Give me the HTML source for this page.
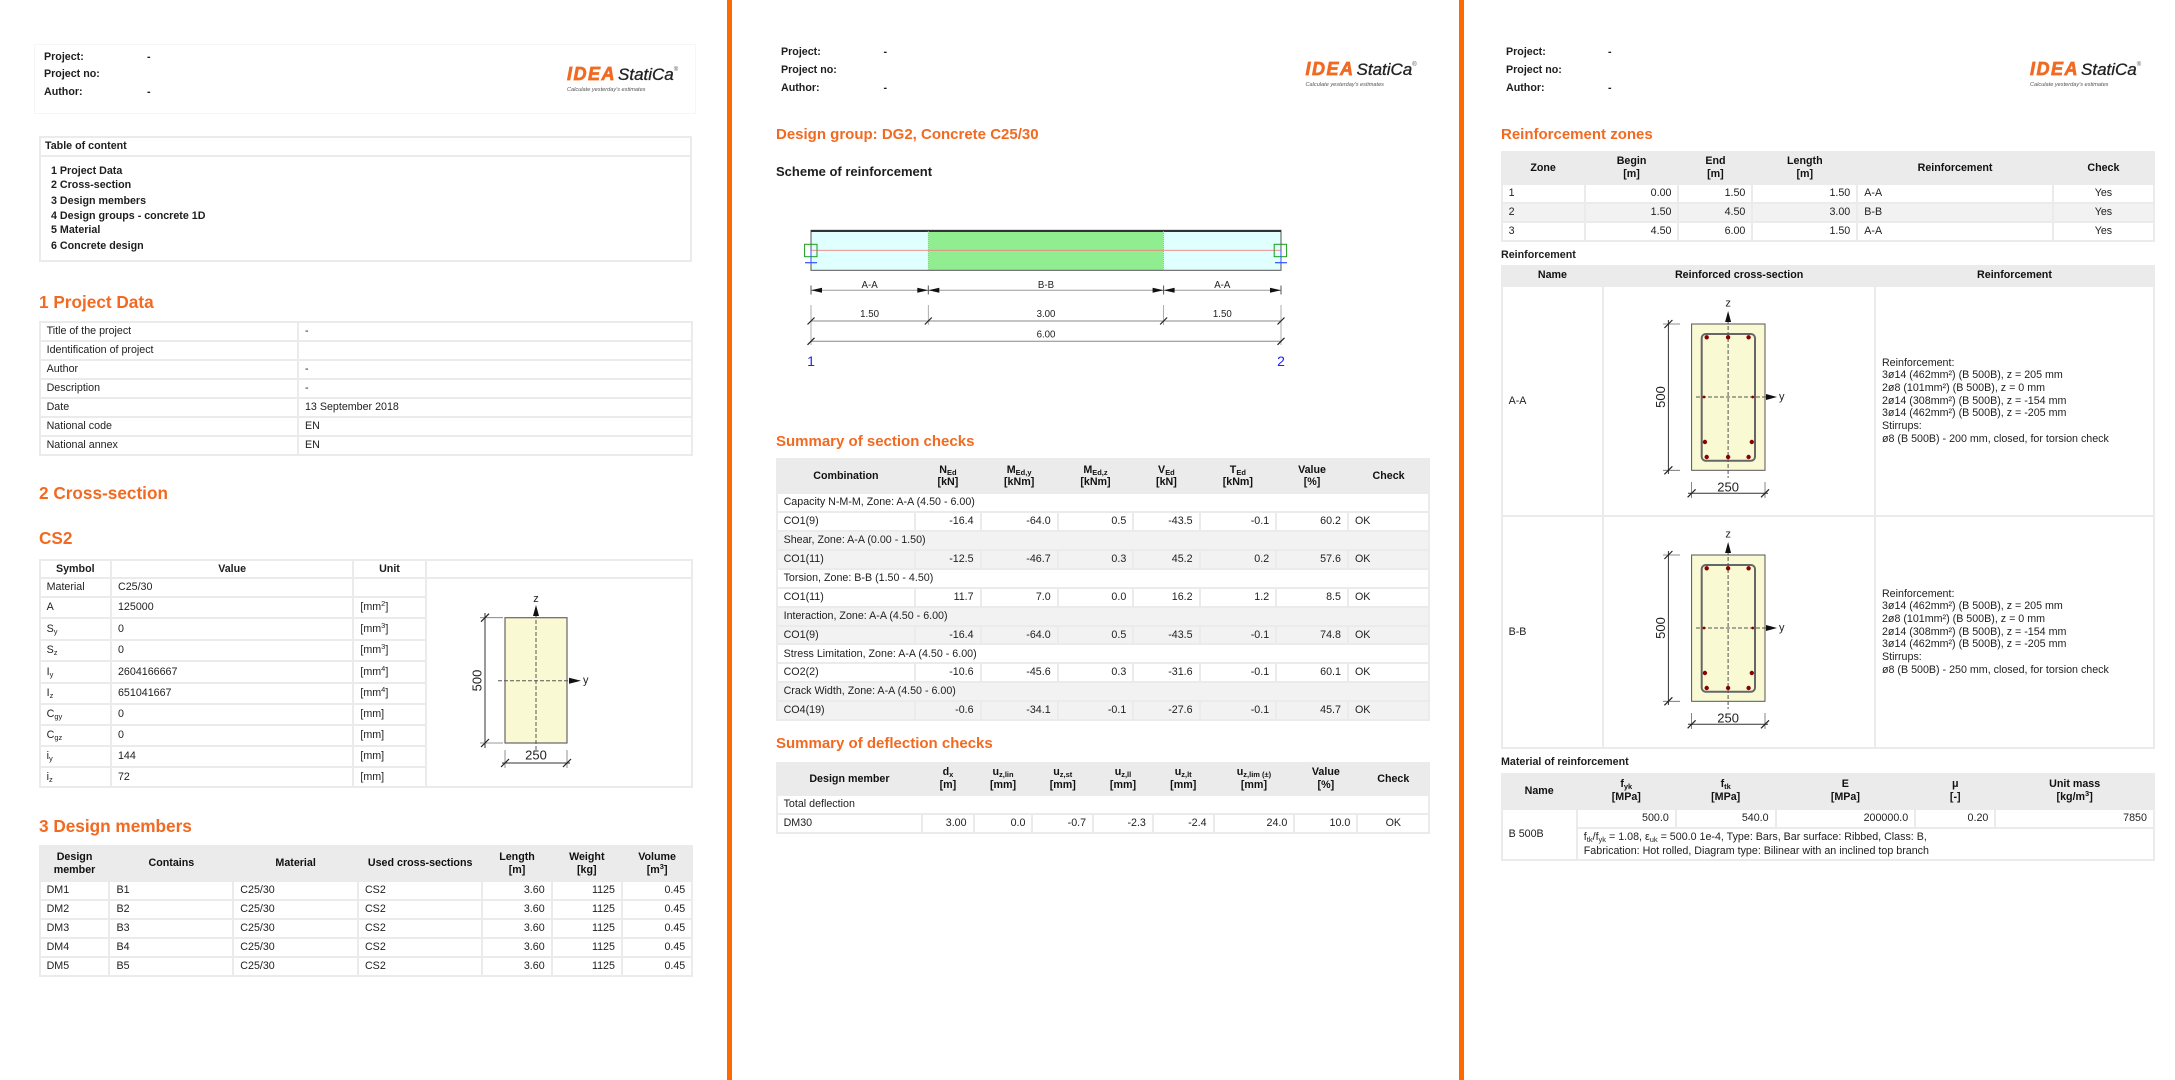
<!DOCTYPE html>
<html><head><meta charset="utf-8">
<style>
*{box-sizing:border-box}
body{margin:0;width:2175px;height:1080px;position:relative;overflow:hidden;background:#fff;font-family:"Liberation Sans",Arial,sans-serif;color:#1e1e1e;font-size:10.7px}
.a{position:absolute;white-space:nowrap}
.b{font-weight:bold}
.t{line-height:14px}
.hd{position:absolute;white-space:nowrap;font-weight:bold;color:#f26a21;line-height:20px}
.h17{font-size:17.2px}
.h15{font-size:15px}
table{position:absolute;border-collapse:collapse;table-layout:fixed;font-size:10.7px;line-height:12.7px}
td,th{border:2px solid #ebebeb;padding:0 6px;white-space:nowrap;overflow:hidden;vertical-align:middle}
th{background:#ebebeb;font-weight:bold;text-align:center;color:#111}
.r{text-align:right}.c{text-align:center}
.g td{background:#f2f2f2}
sub,sup{font-size:70%;line-height:0}
sub{vertical-align:-2px}sup{vertical-align:4px}
.sep{position:absolute;top:0;height:1080px;width:4.5px;background:#ff6a00}
.logo{position:absolute;white-space:nowrap;line-height:18px}
.idea{font-style:italic;font-weight:bold;font-size:18px;color:#f26a21;letter-spacing:1.5px;-webkit-text-stroke:0.7px #f26a21}
.st{font-style:italic;font-size:17px;color:#222;margin-left:2px;-webkit-text-stroke:0.3px #222}
.reg{font-size:6px;vertical-align:9px;color:#555}
.tag{font-style:italic;font-size:5.6px;color:#555;line-height:7px;margin-top:1px}
</style></head><body>

<div class="sep" style="left:727px"></div>
<div class="sep" style="left:1459.3px"></div>

<!-- ========== COLUMN 1 ========== -->
<div class="a" style="left:34px;top:44px;width:662px;height:70px;border:1px solid #f6f6f6"></div>
<div class="a b t" style="left:44px;top:49.7px">Project:</div><div class="a b t" style="left:147px;top:49.7px">-</div>
<div class="a b t" style="left:44px;top:67.3px">Project no:</div>
<div class="a b t" style="left:44px;top:85.3px">Author:</div><div class="a b t" style="left:147px;top:85.3px">-</div>
<div class="logo" style="left:567px;top:60.7px"><span class="idea">IDEA</span><span class="st">StatiCa</span><span class="reg">®</span><div class="tag">Calculate yesterday's estimates</div></div>

<div class="a" style="left:38.6px;top:136px;width:653px;height:126px;border:2px solid #ebebeb"></div>
<div class="a" style="left:38.6px;top:154.5px;width:653px;height:2px;background:#ebebeb"></div>
<div class="a b t" style="left:45px;top:138.7px">Table of content</div>
<div class="a b t" style="left:51px;top:164px">1 Project Data</div>
<div class="a b t" style="left:51px;top:178.3px">2 Cross-section</div>
<div class="a b t" style="left:51px;top:193.7px">3 Design members</div>
<div class="a b t" style="left:51px;top:209px">4 Design groups - concrete 1D</div>
<div class="a b t" style="left:51px;top:223.3px">5 Material</div>
<div class="a b t" style="left:51px;top:238.7px">6 Concrete design</div>

<div class="hd h17" style="left:39px;top:292px">1 Project Data</div>
<table style="left:38.6px;top:321px;width:652.4px">
<colgroup><col style="width:258.4px"><col style="width:394px"></colgroup>
<tr style="height:19px"><td>Title of the project</td><td>-</td></tr>
<tr style="height:19px"><td>Identification of project</td><td></td></tr>
<tr style="height:19px"><td>Author</td><td>-</td></tr>
<tr style="height:19px"><td>Description</td><td>-</td></tr>
<tr style="height:19px"><td>Date</td><td>13 September 2018</td></tr>
<tr style="height:19px"><td>National code</td><td>EN</td></tr>
<tr style="height:19px"><td>National annex</td><td>EN</td></tr>
</table>

<div class="hd h17" style="left:39px;top:482.7px">2 Cross-section</div>
<div class="hd h17" style="left:39px;top:528.3px">CS2</div>
<table style="left:38.6px;top:558.7px;width:652.4px">
<colgroup><col style="width:71.4px"><col style="width:242.4px"><col style="width:72.2px"><col style="width:266.4px"></colgroup>
<tr style="height:18.6px"><td class="c b">Symbol</td><td class="c b">Value</td><td class="c b">Unit</td><td></td></tr>
<tr style="height:19px"><td>Material</td><td>C25/30</td><td></td><td rowspan="10"></td></tr>
<tr style="height:21px"><td>A</td><td>125000</td><td>[mm<sup>2</sup>]</td></tr>
<tr style="height:21.5px"><td>S<sub>y</sub></td><td>0</td><td>[mm<sup>3</sup>]</td></tr>
<tr style="height:21.5px"><td>S<sub>z</sub></td><td>0</td><td>[mm<sup>3</sup>]</td></tr>
<tr style="height:21.3px"><td>I<sub>y</sub></td><td>2604166667</td><td>[mm<sup>4</sup>]</td></tr>
<tr style="height:21.5px"><td>I<sub>z</sub></td><td>651041667</td><td>[mm<sup>4</sup>]</td></tr>
<tr style="height:20.7px"><td>C<sub>gy</sub></td><td>0</td><td>[mm]</td></tr>
<tr style="height:21px"><td>C<sub>gz</sub></td><td>0</td><td>[mm]</td></tr>
<tr style="height:21px"><td>i<sub>y</sub></td><td>144</td><td>[mm]</td></tr>
<tr style="height:20.6px"><td>i<sub>z</sub></td><td>72</td><td>[mm]</td></tr>
</table>

<div class="hd h17" style="left:39px;top:816px">3 Design members</div>
<table style="left:38.6px;top:845.3px;width:652.7px">
<colgroup><col style="width:69.9px"><col style="width:123.8px"><col style="width:124.7px"><col style="width:124.4px"><col style="width:69.3px"><col style="width:70.3px"><col style="width:70.3px"></colgroup>
<tr style="height:34.7px"><th>Design<br>member</th><th>Contains</th><th>Material</th><th>Used cross-sections</th><th>Length<br>[m]</th><th>Weight<br>[kg]</th><th>Volume<br>[m<sup>3</sup>]</th></tr>
<tr style="height:19px"><td>DM1</td><td>B1</td><td>C25/30</td><td>CS2</td><td class="r">3.60</td><td class="r">1125</td><td class="r">0.45</td></tr>
<tr style="height:19px"><td>DM2</td><td>B2</td><td>C25/30</td><td>CS2</td><td class="r">3.60</td><td class="r">1125</td><td class="r">0.45</td></tr>
<tr style="height:19px"><td>DM3</td><td>B3</td><td>C25/30</td><td>CS2</td><td class="r">3.60</td><td class="r">1125</td><td class="r">0.45</td></tr>
<tr style="height:19px"><td>DM4</td><td>B4</td><td>C25/30</td><td>CS2</td><td class="r">3.60</td><td class="r">1125</td><td class="r">0.45</td></tr>
<tr style="height:19px"><td>DM5</td><td>B5</td><td>C25/30</td><td>CS2</td><td class="r">3.60</td><td class="r">1125</td><td class="r">0.45</td></tr>
</table>

<!-- ========== COLUMN 2 ========== -->
<div class="a b t" style="left:781px;top:45.3px">Project:</div><div class="a b t" style="left:883.5px;top:45.3px">-</div>
<div class="a b t" style="left:781px;top:63.3px">Project no:</div>
<div class="a b t" style="left:781px;top:81.3px">Author:</div><div class="a b t" style="left:883.5px;top:81.3px">-</div>
<div class="logo" style="left:1305.5px;top:55.7px"><span class="idea">IDEA</span><span class="st">StatiCa</span><span class="reg">®</span><div class="tag">Calculate yesterday's estimates</div></div>

<div class="hd h15" style="left:776px;top:124.7px">Design group: DG2, Concrete C25/30</div>
<div class="a b" style="left:776px;top:164.3px;font-size:13px;line-height:16px">Scheme of reinforcement</div>

<div class="hd h15" style="left:776px;top:431.7px">Summary of section checks</div>
<table style="left:775.6px;top:458.3px;width:652.7px">
<colgroup><col style="width:138.7px"><col style="width:65.3px"><col style="width:77.1px"><col style="width:75.6px"><col style="width:66.3px"><col style="width:76.6px"><col style="width:71.8px"><col style="width:81.3px"></colgroup>
<tr style="height:34px"><th>Combination</th><th>N<sub>Ed</sub><br>[kN]</th><th>M<sub>Ed,y</sub><br>[kNm]</th><th>M<sub>Ed,z</sub><br>[kNm]</th><th>V<sub>Ed</sub><br>[kN]</th><th>T<sub>Ed</sub><br>[kNm]</th><th>Value<br>[%]</th><th>Check</th></tr>
<tr style="height:18.9px"><td colspan="8">Capacity N-M-M, Zone: A-A (4.50 - 6.00)</td></tr>
<tr style="height:18.9px"><td>CO1(9)</td><td class="r">-16.4</td><td class="r">-64.0</td><td class="r">0.5</td><td class="r">-43.5</td><td class="r">-0.1</td><td class="r">60.2</td><td>OK</td></tr>
<tr class="g" style="height:18.9px"><td colspan="8">Shear, Zone: A-A (0.00 - 1.50)</td></tr>
<tr class="g" style="height:18.9px"><td>CO1(11)</td><td class="r">-12.5</td><td class="r">-46.7</td><td class="r">0.3</td><td class="r">45.2</td><td class="r">0.2</td><td class="r">57.6</td><td>OK</td></tr>
<tr style="height:18.9px"><td colspan="8">Torsion, Zone: B-B (1.50 - 4.50)</td></tr>
<tr style="height:18.9px"><td>CO1(11)</td><td class="r">11.7</td><td class="r">7.0</td><td class="r">0.0</td><td class="r">16.2</td><td class="r">1.2</td><td class="r">8.5</td><td>OK</td></tr>
<tr class="g" style="height:18.9px"><td colspan="8">Interaction, Zone: A-A (4.50 - 6.00)</td></tr>
<tr class="g" style="height:18.9px"><td>CO1(9)</td><td class="r">-16.4</td><td class="r">-64.0</td><td class="r">0.5</td><td class="r">-43.5</td><td class="r">-0.1</td><td class="r">74.8</td><td>OK</td></tr>
<tr style="height:18.9px"><td colspan="8">Stress Limitation, Zone: A-A (4.50 - 6.00)</td></tr>
<tr style="height:18.9px"><td>CO2(2)</td><td class="r">-10.6</td><td class="r">-45.6</td><td class="r">0.3</td><td class="r">-31.6</td><td class="r">-0.1</td><td class="r">60.1</td><td>OK</td></tr>
<tr class="g" style="height:18.9px"><td colspan="8">Crack Width, Zone: A-A (4.50 - 6.00)</td></tr>
<tr class="g" style="height:18.9px"><td>CO4(19)</td><td class="r">-0.6</td><td class="r">-34.1</td><td class="r">-0.1</td><td class="r">-27.6</td><td class="r">-0.1</td><td class="r">45.7</td><td>OK</td></tr>
</table>

<div class="hd h15" style="left:776px;top:734px">Summary of deflection checks</div>
<table style="left:775.6px;top:761.7px;width:652.7px">
<colgroup><col style="width:145.7px"><col style="width:51.3px"><col style="width:58.9px"><col style="width:60.6px"><col style="width:59.8px"><col style="width:60.7px"><col style="width:80.8px"><col style="width:63px"><col style="width:71.9px"></colgroup>
<tr style="height:32.6px"><th>Design member</th><th>d<sub>x</sub><br>[m]</th><th>u<sub>z,lin</sub><br>[mm]</th><th>u<sub>z,st</sub><br>[mm]</th><th>u<sub>z,ll</sub><br>[mm]</th><th>u<sub>z,lt</sub><br>[mm]</th><th>u<sub>z,lim (±)</sub><br>[mm]</th><th>Value<br>[%]</th><th>Check</th></tr>
<tr style="height:19px"><td colspan="9">Total deflection</td></tr>
<tr style="height:19px"><td>DM30</td><td class="r">3.00</td><td class="r">0.0</td><td class="r">-0.7</td><td class="r">-2.3</td><td class="r">-2.4</td><td class="r">24.0</td><td class="r">10.0</td><td class="c">OK</td></tr>
</table>

<!-- ========== COLUMN 3 ========== -->
<div class="a b t" style="left:1506px;top:45.3px">Project:</div><div class="a b t" style="left:1608px;top:45.3px">-</div>
<div class="a b t" style="left:1506px;top:63.3px">Project no:</div>
<div class="a b t" style="left:1506px;top:81.3px">Author:</div><div class="a b t" style="left:1608px;top:81.3px">-</div>
<div class="logo" style="left:2030px;top:55.7px"><span class="idea">IDEA</span><span class="st">StatiCa</span><span class="reg">®</span><div class="tag">Calculate yesterday's estimates</div></div>

<div class="hd h15" style="left:1501px;top:124.7px">Reinforcement zones</div>
<table style="left:1500.6px;top:151px;width:652.4px">
<colgroup><col style="width:83px"><col style="width:93.9px"><col style="width:73.9px"><col style="width:104.9px"><col style="width:195.6px"><col style="width:101.1px"></colgroup>
<tr style="height:32.3px"><th>Zone</th><th>Begin<br>[m]</th><th>End<br>[m]</th><th>Length<br>[m]</th><th>Reinforcement</th><th>Check</th></tr>
<tr style="height:19px"><td>1</td><td class="r">0.00</td><td class="r">1.50</td><td class="r">1.50</td><td>A-A</td><td class="c">Yes</td></tr>
<tr class="g" style="height:19px"><td>2</td><td class="r">1.50</td><td class="r">4.50</td><td class="r">3.00</td><td>B-B</td><td class="c">Yes</td></tr>
<tr style="height:19px"><td>3</td><td class="r">4.50</td><td class="r">6.00</td><td class="r">1.50</td><td>A-A</td><td class="c">Yes</td></tr>
</table>

<div class="a b t" style="left:1501px;top:248px">Reinforcement</div>
<table style="left:1500.6px;top:265px;width:652.4px">
<colgroup><col style="width:101.7px"><col style="width:271.7px"><col style="width:279px"></colgroup>
<tr style="height:19.7px"><th>Name</th><th>Reinforced cross-section</th><th>Reinforcement</th></tr>
<tr style="height:230.6px"><td>A-A</td><td></td><td style="line-height:12.67px">Reinforcement:<br>3ø14 (462mm²) (B 500B), z = 205 mm<br>2ø8 (101mm²) (B 500B), z = 0 mm<br>2ø14 (308mm²) (B 500B), z = -154 mm<br>3ø14 (462mm²) (B 500B), z = -205 mm<br>Stirrups:<br>ø8 (B 500B) - 200 mm, closed, for torsion check</td></tr>
<tr style="height:231.4px"><td>B-B</td><td></td><td style="line-height:12.67px">Reinforcement:<br>3ø14 (462mm²) (B 500B), z = 205 mm<br>2ø8 (101mm²) (B 500B), z = 0 mm<br>2ø14 (308mm²) (B 500B), z = -154 mm<br>3ø14 (462mm²) (B 500B), z = -205 mm<br>Stirrups:<br>ø8 (B 500B) - 250 mm, closed, for torsion check</td></tr>
</table>

<div class="a b t" style="left:1501px;top:755px">Material of reinforcement</div>
<table style="left:1500.6px;top:772.7px;width:652.4px">
<colgroup><col style="width:75.2px"><col style="width:99px"><col style="width:99.8px"><col style="width:139.6px"><col style="width:80.2px"><col style="width:158.6px"></colgroup>
<tr style="height:35px"><th>Name</th><th>f<sub>yk</sub><br>[MPa]</th><th>f<sub>tk</sub><br>[MPa]</th><th>E<br>[MPa]</th><th>μ<br>[-]</th><th>Unit mass<br>[kg/m<sup>3</sup>]</th></tr>
<tr style="height:19px"><td rowspan="2">B 500B</td><td class="r">500.0</td><td class="r">540.0</td><td class="r">200000.0</td><td class="r">0.20</td><td class="r">7850</td></tr>
<tr style="height:32.6px"><td colspan="5" style="line-height:14px">f<sub>tk</sub>/f<sub>yk</sub> = 1.08, ε<sub>uk</sub> = 500.0 1e-4, Type: Bars, Bar surface: Ribbed, Class: B,<br>Fabrication: Hot rolled, Diagram type: Bilinear with an inclined top branch</td></tr>
</table>

<!-- ========== DRAWINGS ========== -->
<svg class="a" style="left:0;top:0" width="2175" height="1080" xmlns="http://www.w3.org/2000/svg" font-family="Liberation Sans, Arial, sans-serif">
<!-- CS2 section -->
<rect x="505" y="617.7" width="62" height="125.3" fill="#f9f9d4" stroke="#666" stroke-width="1.2"/>
<line x1="536" y1="614" x2="536" y2="750" stroke="#555" stroke-width="1" stroke-dasharray="4 2"/>
<polygon points="536,605 533,616 539,616" fill="#111"/>
<text x="536" y="602" font-size="11" text-anchor="middle" fill="#222">z</text>
<line x1="498" y1="680.7" x2="569" y2="680.7" stroke="#555" stroke-width="1" stroke-dasharray="4 2"/>
<polygon points="581,680.7 569,677.7 569,683.7" fill="#111"/>
<text x="583" y="683.5" font-size="11" fill="#222">y</text>
<line x1="485" y1="613" x2="485" y2="748" stroke="#333" stroke-width="1"/>
<line x1="480" y1="617.7" x2="503" y2="617.7" stroke="#777" stroke-width="0.8"/>
<line x1="480" y1="743" x2="503" y2="743" stroke="#777" stroke-width="0.8"/>
<line x1="481" y1="621.7" x2="489" y2="613.7" stroke="#222" stroke-width="1.2"/>
<line x1="481" y1="747" x2="489" y2="739" stroke="#222" stroke-width="1.2"/>
<text x="0" y="0" font-size="13" text-anchor="middle" fill="#222" transform="translate(481.5 680.5) rotate(-90)">500</text>
<text x="536" y="759.6" font-size="13" text-anchor="middle" fill="#222">250</text>
<line x1="502" y1="763" x2="570" y2="763" stroke="#333" stroke-width="1"/>
<line x1="505" y1="750" x2="505" y2="768" stroke="#777" stroke-width="0.8"/>
<line x1="567" y1="750" x2="567" y2="768" stroke="#777" stroke-width="0.8"/>
<line x1="501" y1="767" x2="509" y2="759" stroke="#222" stroke-width="1.2"/>
<line x1="563" y1="767" x2="571" y2="759" stroke="#222" stroke-width="1.2"/>

<!-- Beam scheme -->
<rect x="811" y="230.3" width="117.3" height="40" fill="#e0ffff"/>
<rect x="928.3" y="230.3" width="235.3" height="40" fill="#90ee90"/>
<rect x="1163.6" y="230.3" width="117.4" height="40" fill="#e0ffff"/>
<rect x="811" y="230.3" width="470" height="40" fill="none" stroke="#555" stroke-width="1"/>
<line x1="811" y1="231" x2="1281" y2="231" stroke="#333" stroke-width="2"/>
<line x1="928.3" y1="231" x2="928.3" y2="270" stroke="#aaa" stroke-width="0.8" stroke-dasharray="1 1"/>
<line x1="1163.6" y1="231" x2="1163.6" y2="270" stroke="#aaa" stroke-width="0.8" stroke-dasharray="1 1"/>
<line x1="811" y1="250.3" x2="1281" y2="250.3" stroke="#f08080" stroke-width="0.8"/>
<rect x="804.6" y="244.3" width="12.4" height="12.4" fill="none" stroke="#1a9a1a" stroke-width="1"/>
<rect x="1274.2" y="244.3" width="12.4" height="12.4" fill="none" stroke="#1a9a1a" stroke-width="1"/>
<line x1="811" y1="250" x2="811" y2="262.7" stroke="#3050ff" stroke-width="1"/>
<line x1="805" y1="262.7" x2="817" y2="262.7" stroke="#3050ff" stroke-width="1.2"/>
<line x1="1281" y1="250" x2="1281" y2="262.7" stroke="#3050ff" stroke-width="1"/>
<line x1="1275" y1="262.7" x2="1287" y2="262.7" stroke="#3050ff" stroke-width="1.2"/>
<!-- dim row 1 -->
<line x1="811" y1="290.3" x2="1281" y2="290.3" stroke="#999" stroke-width="1"/>
<g stroke="#555" stroke-width="1">
<line x1="811" y1="285.5" x2="811" y2="294.5"/><line x1="928.3" y1="285.5" x2="928.3" y2="294.5"/>
<line x1="1163.6" y1="285.5" x2="1163.6" y2="294.5"/><line x1="1281" y1="285.5" x2="1281" y2="294.5"/>
</g>
<g fill="#111">
<polygon points="811,290.3 822,287.8 822,292.8"/><polygon points="928.3,290.3 917.3,287.8 917.3,292.8"/>
<polygon points="928.3,290.3 939.3,287.8 939.3,292.8"/><polygon points="1163.6,290.3 1152.6,287.8 1152.6,292.8"/>
<polygon points="1163.6,290.3 1174.6,287.8 1174.6,292.8"/><polygon points="1281,290.3 1270,287.8 1270,292.8"/>
</g>
<g font-size="9.7" text-anchor="middle" fill="#222">
<text x="869.6" y="288">A-A</text><text x="1046" y="288">B-B</text><text x="1222.3" y="288">A-A</text>
<text x="869.6" y="317">1.50</text><text x="1046" y="317">3.00</text><text x="1222.3" y="317">1.50</text>
<text x="1046" y="337.3">6.00</text>
</g>
<!-- dim row 2/3 -->
<g stroke="#999" stroke-width="0.8">
<line x1="811" y1="305" x2="811" y2="345"/><line x1="928.3" y1="305" x2="928.3" y2="325"/>
<line x1="1163.6" y1="305" x2="1163.6" y2="325"/><line x1="1281" y1="305" x2="1281" y2="345"/>
</g>
<line x1="811" y1="321" x2="1281" y2="321" stroke="#888" stroke-width="1"/>
<line x1="811" y1="341.3" x2="1281" y2="341.3" stroke="#888" stroke-width="1"/>
<g stroke="#222" stroke-width="1.2">
<line x1="807.5" y1="324.5" x2="814.5" y2="317.5"/><line x1="924.8" y1="324.5" x2="931.8" y2="317.5"/>
<line x1="1160.1" y1="324.5" x2="1167.1" y2="317.5"/><line x1="1277.5" y1="324.5" x2="1284.5" y2="317.5"/>
<line x1="807.5" y1="344.8" x2="814.5" y2="337.8"/><line x1="1277.5" y1="344.8" x2="1284.5" y2="337.8"/>
</g>
<text x="811" y="366" font-size="14" text-anchor="middle" fill="#2020ff">1</text>
<text x="1281" y="366" font-size="14" text-anchor="middle" fill="#2020ff">2</text>

<!-- Reinforced section A-A -->
<g>
<rect x="1691.6" y="324" width="73.4" height="146.3" fill="#f9f9d4" stroke="#555" stroke-width="1"/>
<rect x="1701.7" y="334" width="53.3" height="126.7" rx="4" fill="none" stroke="#666" stroke-width="2"/>
<line x1="1728.1" y1="320" x2="1728.1" y2="478" stroke="#555" stroke-width="1" stroke-dasharray="4 2"/>
<polygon points="1728.1,311 1725.1,322 1731.1,322" fill="#111"/>
<text x="1728.1" y="306.5" font-size="11" text-anchor="middle" fill="#222">z</text>
<line x1="1696" y1="397" x2="1766" y2="397" stroke="#555" stroke-width="1" stroke-dasharray="4 2"/>
<polygon points="1777,397 1766,394 1766,400" fill="#111"/>
<text x="1779" y="400" font-size="11" fill="#222">y</text>
<g fill="#8b0000">
<circle cx="1706.7" cy="337.3" r="2.2"/><circle cx="1728.1" cy="337.3" r="2.2"/><circle cx="1748.6" cy="337.3" r="2.2"/>
<circle cx="1706.7" cy="457" r="2.2"/><circle cx="1728.1" cy="457" r="2.2"/><circle cx="1748.6" cy="457" r="2.2"/>
<circle cx="1704.9" cy="442" r="2.2"/><circle cx="1751.8" cy="442" r="2.2"/>
<circle cx="1704" cy="397" r="1.4"/><circle cx="1752.7" cy="397" r="1.4"/>
</g>
<line x1="1668.4" y1="320" x2="1668.4" y2="474" stroke="#333" stroke-width="1"/>
<line x1="1663" y1="324" x2="1680" y2="324" stroke="#666" stroke-width="0.8"/>
<line x1="1663" y1="470.3" x2="1680" y2="470.3" stroke="#666" stroke-width="0.8"/>
<line x1="1664.4" y1="328" x2="1672.4" y2="320" stroke="#222" stroke-width="1.2"/>
<line x1="1664.4" y1="474.3" x2="1672.4" y2="466.3" stroke="#222" stroke-width="1.2"/>
<text x="0" y="0" font-size="13" text-anchor="middle" fill="#222" transform="translate(1665 397) rotate(-90)">500</text>
<text x="1728.1" y="491.5" font-size="13" text-anchor="middle" fill="#222">250</text>
<line x1="1688" y1="493.3" x2="1768" y2="493.3" stroke="#333" stroke-width="1"/>
<line x1="1691.6" y1="482" x2="1691.6" y2="498" stroke="#666" stroke-width="0.8"/>
<line x1="1765" y1="482" x2="1765" y2="498" stroke="#666" stroke-width="0.8"/>
<line x1="1687.6" y1="497.3" x2="1695.6" y2="489.3" stroke="#222" stroke-width="1.2"/>
<line x1="1761" y1="497.3" x2="1769" y2="489.3" stroke="#222" stroke-width="1.2"/>
</g>
<!-- Reinforced section B-B -->
<g transform="translate(0 231)">
<rect x="1691.6" y="324" width="73.4" height="146.3" fill="#f9f9d4" stroke="#555" stroke-width="1"/>
<rect x="1701.7" y="334" width="53.3" height="126.7" rx="4" fill="none" stroke="#666" stroke-width="2"/>
<line x1="1728.1" y1="320" x2="1728.1" y2="478" stroke="#555" stroke-width="1" stroke-dasharray="4 2"/>
<polygon points="1728.1,311 1725.1,322 1731.1,322" fill="#111"/>
<text x="1728.1" y="306.5" font-size="11" text-anchor="middle" fill="#222">z</text>
<line x1="1696" y1="397" x2="1766" y2="397" stroke="#555" stroke-width="1" stroke-dasharray="4 2"/>
<polygon points="1777,397 1766,394 1766,400" fill="#111"/>
<text x="1779" y="400" font-size="11" fill="#222">y</text>
<g fill="#8b0000">
<circle cx="1706.7" cy="337.3" r="2.2"/><circle cx="1728.1" cy="337.3" r="2.2"/><circle cx="1748.6" cy="337.3" r="2.2"/>
<circle cx="1706.7" cy="457" r="2.2"/><circle cx="1728.1" cy="457" r="2.2"/><circle cx="1748.6" cy="457" r="2.2"/>
<circle cx="1704.9" cy="442" r="2.2"/><circle cx="1751.8" cy="442" r="2.2"/>
<circle cx="1704" cy="397" r="1.4"/><circle cx="1752.7" cy="397" r="1.4"/>
</g>
<line x1="1668.4" y1="320" x2="1668.4" y2="474" stroke="#333" stroke-width="1"/>
<line x1="1663" y1="324" x2="1680" y2="324" stroke="#666" stroke-width="0.8"/>
<line x1="1663" y1="470.3" x2="1680" y2="470.3" stroke="#666" stroke-width="0.8"/>
<line x1="1664.4" y1="328" x2="1672.4" y2="320" stroke="#222" stroke-width="1.2"/>
<line x1="1664.4" y1="474.3" x2="1672.4" y2="466.3" stroke="#222" stroke-width="1.2"/>
<text x="0" y="0" font-size="13" text-anchor="middle" fill="#222" transform="translate(1665 397) rotate(-90)">500</text>
<text x="1728.1" y="491.5" font-size="13" text-anchor="middle" fill="#222">250</text>
<line x1="1688" y1="493.3" x2="1768" y2="493.3" stroke="#333" stroke-width="1"/>
<line x1="1691.6" y1="482" x2="1691.6" y2="498" stroke="#666" stroke-width="0.8"/>
<line x1="1765" y1="482" x2="1765" y2="498" stroke="#666" stroke-width="0.8"/>
<line x1="1687.6" y1="497.3" x2="1695.6" y2="489.3" stroke="#222" stroke-width="1.2"/>
<line x1="1761" y1="497.3" x2="1769" y2="489.3" stroke="#222" stroke-width="1.2"/>
</g>
</svg>
</body></html>
